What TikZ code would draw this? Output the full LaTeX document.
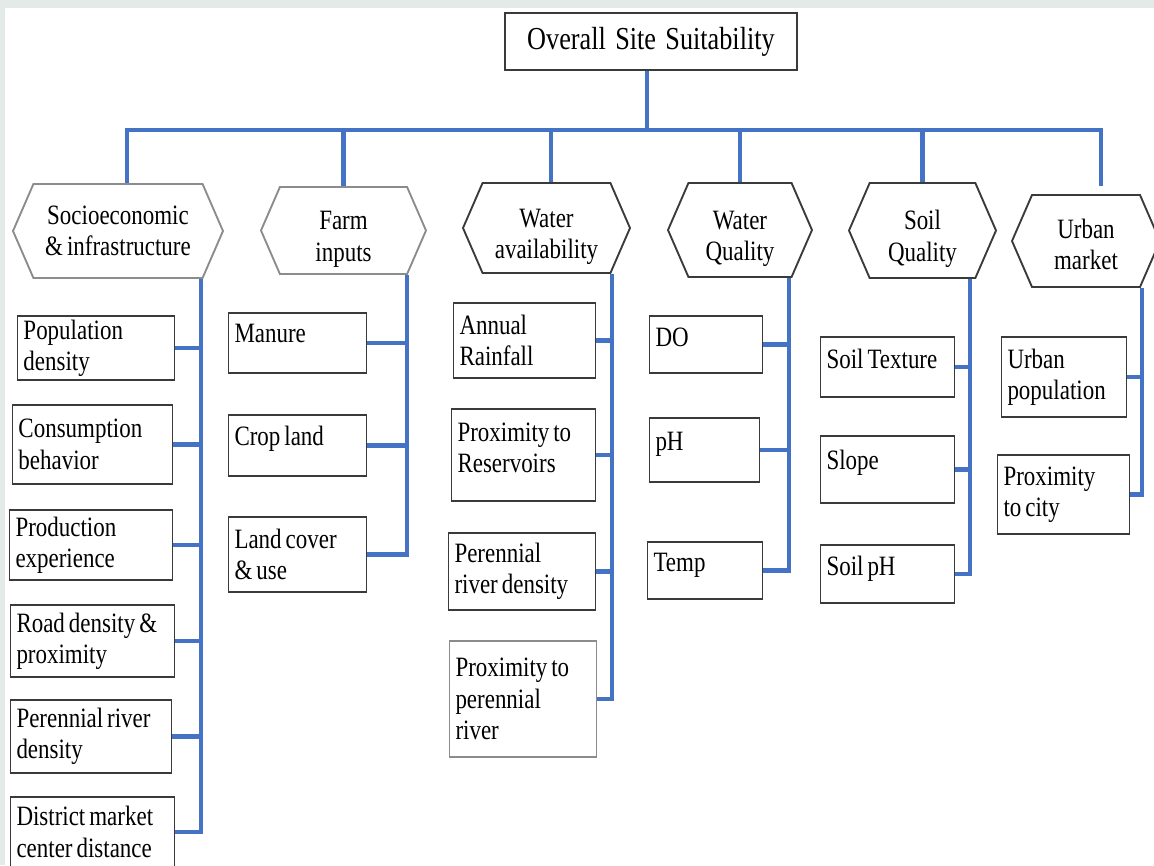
\documentclass[tikz,border=0pt]{standalone}
\usepackage{fontspec}
\setmainfont{Liberation Serif}[FakeStretch=0.82]
\usepackage{tikz}
\usetikzlibrary{shapes}

\definecolor{linkblue}{HTML}{4472C4}
\definecolor{boxgray}{HTML}{3A3A3A}
\definecolor{softgray}{HTML}{8C8C8C}
\definecolor{pagegray}{HTML}{E4EAE8}

\newcommand{\hexlift}[1]{\rule{0pt}{#1}}

\begin{document}
\begin{tikzpicture}[
      x=0.75pt, y=-0.75pt,  % pixel grid of the figure
      every node/.style={font={\fontsize{21}{23.5}\selectfont\spaceskip=3pt\relax}},
      goal/.style={rectangle, draw=boxgray, line width=1.4pt, font={\fontsize{24}{28}\selectfont\spaceskip=7pt\relax}},
      criterion/.style={signal, signal to=west and east, signal pointer angle=133, draw=boxgray, line width=1.4pt, align=center, inner sep=1pt},
      factor/.style={rectangle, draw=boxgray, line width=1.4pt, align=left, inner xsep=4.5pt, inner ysep=0pt,
        execute at begin node={\spaceskip=3pt\relax}},
      upper/.style={text depth=#1},
      upper/.default=15pt,
      link/.style={draw=linkblue, line width=3.4pt}
    ]
    % page
    \useasboundingbox (0,0) rectangle (1154,865);
    \fill[pagegray] (0,0) rectangle (1154,865);
    \fill[white] (5,8) rectangle (1154,865);

    % Root node: overall goal
    \node[goal, minimum width=219pt, minimum height=42.75pt] (root) at (651,41.5) {Overall Site Suitability};

    % Criteria
    \node[criterion, draw=softgray, minimum width=157.5pt, minimum height=70.5pt] (soc) at (118,231) {Socioeconomic\\\& infrastructure};
    \node[criterion, draw=softgray, minimum width=123.75pt, minimum height=65.25pt] (farm) at (343.5,230.5) {\hexlift{27pt}Farm\\inputs};
    \node[criterion, minimum width=125.25pt, minimum height=67.5pt] (wav) at (546.5,228) {\hexlift{27pt}Water\\availability};
    \node[criterion, minimum width=108pt, minimum height=70.5pt] (wq) at (740,230) {\hexlift{27pt}Water\\Quality};
    \node[criterion, minimum width=110.25pt, minimum height=71.25pt] (soil) at (922.5,230.5) {\hexlift{27pt}Soil\\Quality};
    \node[criterion, minimum width=111pt, minimum height=69pt] (urb) at (1086,241) {\hexlift{20pt}Urban\\market};

    % Socioeconomic factors
    \node[factor, text width=108.75pt, minimum height=48pt] (pop) at (96,348) {Population\\density};
    \node[factor, text width=111pt, minimum height=59.25pt] (cons) at (92.5,444.5) {Consumption\\behavior};
    \node[factor, text width=113.25pt, minimum height=52.5pt] (prod) at (91,545) {Production\\experience};
    \node[factor, text width=114pt, minimum height=54pt] (road) at (92.5,641) {Road density \&\\proximity};
    \node[factor, text width=111.75pt, minimum height=54.75pt] (perr) at (91,736.5) {Perennial river\\density};
    \node[factor, text width=114pt, minimum height=52.5pt] (dist) at (92.5,832) {District market\\center distance};

    % Farm inputs
    \node[factor, upper, text width=94.5pt, minimum height=45pt] (manure) at (297.5,343) {Manure};
    \node[factor, upper, text width=94.5pt, minimum height=45.75pt] (crop) at (297.5,445.5) {Crop land};
    \node[factor, text width=94.5pt, minimum height=56.25pt] (landc) at (297.5,554.5) {Land cover\\\& use};

    % Water availability
    \node[factor, text width=97.5pt, minimum height=56.25pt] (rain) at (524.5,340.5) {Annual\\Rainfall};
    \node[factor, upper=34.5pt, text width=99pt, minimum height=69pt] (resv) at (523.5,455) {Proximity to\\Reservoirs};
    \node[factor, text width=101.25pt, minimum height=57.75pt] (rivd) at (522,571.5) {Perennial\\river density};
    \node[factor, draw=softgray, text width=101.25pt, minimum height=87pt] (rivp) at (523,699) {Proximity to\\perennial\\river};

    % Water quality
    \node[factor, upper=11pt, text width=75.75pt, minimum height=42.75pt] (do) at (706,344.5) {DO};
    \node[factor, upper=13pt, text width=73.5pt, minimum height=48pt] (ph) at (704.5,450) {pH};
    \node[factor, upper=12pt, text width=77.25pt, minimum height=42.75pt] (temp) at (705,570.5) {Temp};

    % Soil quality
    \node[factor, upper=12pt, text width=91.5pt, minimum height=45pt] (tex) at (887.5,367) {Soil Texture};
    \node[factor, upper, text width=91.5pt, minimum height=50.25pt] (slope) at (887.5,469.5) {Slope};
    \node[factor, upper=13pt, text width=91.5pt, minimum height=43.5pt] (sph) at (887.5,574) {Soil pH};

    % Urban market
    \node[factor, text width=84.75pt, minimum height=60pt] (upop) at (1064,377) {Urban\\population};
    \node[factor, text width=90pt, minimum height=59.25pt] (city) at (1063.5,494.5) {Proximity\\to city};

    % goal to criteria
    \draw[link] ([xshift=-3pt]root.south) -- ++(0,59) coordinate (bus);
    \draw[link] (bus) -| ([xshift=6.75pt]soc.north);
    \draw[link] (bus) -| (farm.north);
    \draw[link] (bus) -| ([xshift=3.4pt]wav.north);
    \draw[link] (bus) -| (wq.north);
    \draw[link] (bus) -| (soil.north);
    \draw[link] (bus) -| ([xshift=11.25pt,yshift=6pt]urb.north);

    % criteria to factors
    \foreach \f in {pop,cons,prod,road,perr,dist}
      \draw[link] (\f.east) -| ([xshift=62.25pt]soc.south);
    \foreach \f in {manure,crop,landc}
      \draw[link] (\f.east) -| ([xshift=47.6pt]farm.south);
    \foreach \f in {rain,resv,rivd,rivp}
      \draw[link] (\f.east) -| ([xshift=49.1pt]wav.south);
    \foreach \f in {do,ph,temp}
      \draw[link] (\f.east) -| ([xshift=36.75pt]wq.south);
    \foreach \f in {tex,slope,sph}
      \draw[link] (\f.east) -| ([xshift=35.6pt]soil.south);
    \foreach \f in {upop,city}
      \draw[link] (\f.east) -| ([xshift=42pt]urb.south);
  \end{tikzpicture}
\end{document}
